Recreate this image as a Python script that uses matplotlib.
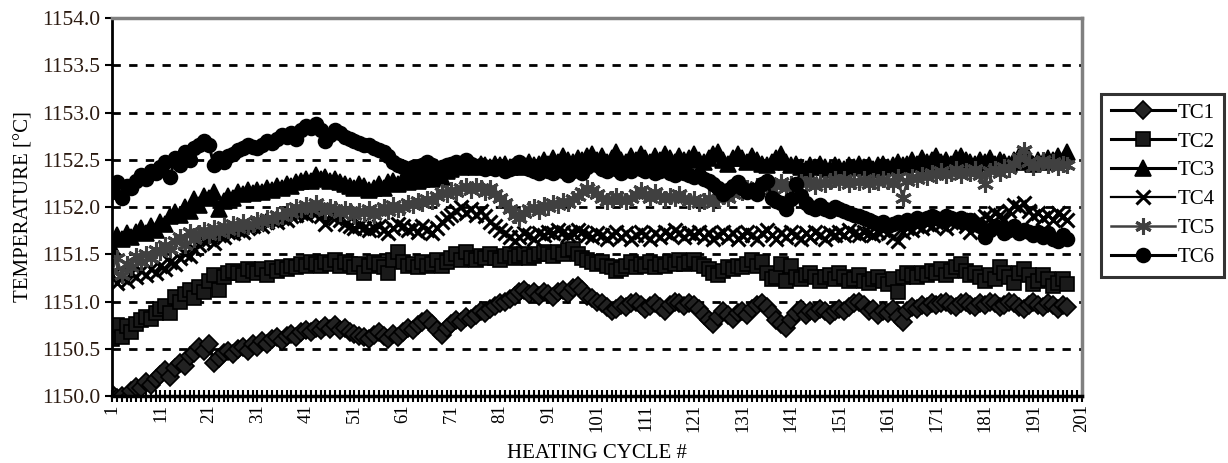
import numpy as np
import matplotlib
matplotlib.use("Agg")
import matplotlib.pyplot as plt
from matplotlib.ticker import MultipleLocator

plt.rcParams['font.family'] = ['Liberation Serif', 'DejaVu Serif']

# thermocouple readings per heating cycle
tc1 = [
    1150.02, 1149.98, 1150.00, 1149.97, 1150.05, 1150.10, 1150.08, 1150.15, 1150.12, 1150.18,
    1150.22, 1150.28, 1150.20, 1150.30, 1150.35, 1150.32, 1150.42, 1150.45, 1150.52, 1150.48,
    1150.55, 1150.35, 1150.40, 1150.45, 1150.48, 1150.44, 1150.50, 1150.52, 1150.48, 1150.55,
    1150.52, 1150.58, 1150.55, 1150.60, 1150.62, 1150.58, 1150.64, 1150.66, 1150.62, 1150.68,
    1150.70, 1150.68, 1150.72, 1150.70, 1150.74, 1150.71, 1150.75, 1150.70, 1150.72, 1150.68,
    1150.66, 1150.64, 1150.62, 1150.60, 1150.65, 1150.68, 1150.63, 1150.60, 1150.66, 1150.62,
    1150.68, 1150.72, 1150.70, 1150.75, 1150.78, 1150.82, 1150.76, 1150.70, 1150.65, 1150.72,
    1150.76, 1150.80, 1150.78, 1150.84, 1150.82, 1150.86, 1150.90, 1150.88, 1150.92, 1150.95,
    1150.98, 1151.00, 1151.03, 1151.06, 1151.10, 1151.12, 1151.08, 1151.10, 1151.06, 1151.10,
    1151.08, 1151.05, 1151.10, 1151.12, 1151.08, 1151.14, 1151.16, 1151.12, 1151.06, 1151.04,
    1151.00, 1150.98, 1150.94, 1150.90, 1150.92, 1150.96, 1150.94, 1150.98, 1151.00, 1150.96,
    1150.92, 1150.95, 1150.98, 1150.94, 1150.90, 1150.96, 1151.00, 1150.98, 1150.95, 1150.98,
    1150.96, 1150.92, 1150.86, 1150.80, 1150.76, 1150.84, 1150.90, 1150.86, 1150.82, 1150.88,
    1150.90, 1150.86, 1150.92, 1150.96, 1150.98, 1150.94, 1150.88, 1150.80, 1150.76, 1150.72,
    1150.80, 1150.88, 1150.92, 1150.86, 1150.90, 1150.88, 1150.92, 1150.90, 1150.86, 1150.90,
    1150.92, 1150.90, 1150.94, 1150.98, 1151.00, 1150.96, 1150.90, 1150.92, 1150.86, 1150.90,
    1150.88, 1150.92, 1150.84, 1150.78, 1150.90, 1150.94, 1150.92, 1150.96, 1150.94, 1150.98,
    1150.96, 1150.98, 1151.00, 1150.96, 1150.94, 1150.98, 1151.00, 1150.96, 1150.94, 1150.98,
    1150.96, 1151.00, 1150.98, 1150.94, 1150.96, 1151.00, 1150.98, 1150.94, 1150.92, 1150.96,
    1151.00, 1150.96, 1150.94, 1150.98, 1150.96, 1150.92, 1150.96, 1150.94,
]
tc2 = [
    1150.60, 1150.75, 1150.62, 1150.74, 1150.68, 1150.76, 1150.80, 1150.84, 1150.82, 1150.88,
    1150.92, 1150.95, 1150.88, 1151.05, 1151.00, 1151.08, 1151.12, 1151.04, 1151.15, 1151.10,
    1151.22, 1151.28, 1151.12, 1151.26, 1151.30, 1151.32, 1151.30, 1151.28, 1151.34, 1151.32,
    1151.30, 1151.34, 1151.28, 1151.35, 1151.32, 1151.36, 1151.34, 1151.38, 1151.36, 1151.40,
    1151.38, 1151.42, 1151.40, 1151.38, 1151.42, 1151.40, 1151.44, 1151.38, 1151.42, 1151.40,
    1151.36, 1151.40, 1151.30, 1151.38, 1151.42, 1151.40, 1151.36, 1151.30, 1151.44, 1151.52,
    1151.42, 1151.38, 1151.40, 1151.36, 1151.42, 1151.38, 1151.40, 1151.44, 1151.38, 1151.42,
    1151.46, 1151.50, 1151.44, 1151.52, 1151.46, 1151.44, 1151.48, 1151.46, 1151.50, 1151.46,
    1151.44, 1151.48, 1151.50, 1151.46, 1151.48, 1151.50, 1151.46, 1151.48, 1151.50, 1151.52,
    1151.50, 1151.48, 1151.52, 1151.50, 1151.54, 1151.56, 1151.50, 1151.46, 1151.44, 1151.42,
    1151.40, 1151.42, 1151.38, 1151.36, 1151.32, 1151.34, 1151.38, 1151.42, 1151.36, 1151.40,
    1151.38, 1151.42, 1151.36, 1151.40, 1151.38, 1151.42, 1151.40, 1151.44, 1151.40, 1151.42,
    1151.44, 1151.40, 1151.38, 1151.34, 1151.30, 1151.28, 1151.32, 1151.36, 1151.34, 1151.38,
    1151.36, 1151.40, 1151.44, 1151.38, 1151.42, 1151.30, 1151.24, 1151.26, 1151.40, 1151.22,
    1151.38, 1151.26, 1151.24, 1151.28, 1151.30, 1151.26, 1151.22, 1151.26, 1151.28, 1151.24,
    1151.30, 1151.26, 1151.22, 1151.24, 1151.28, 1151.22, 1151.20, 1151.24, 1151.26, 1151.22,
    1151.18, 1151.24, 1151.10, 1151.26, 1151.30, 1151.28, 1151.26, 1151.30, 1151.28, 1151.32,
    1151.30, 1151.34, 1151.28, 1151.32, 1151.36, 1151.40, 1151.32, 1151.28, 1151.30, 1151.26,
    1151.22, 1151.28, 1151.24, 1151.36, 1151.30, 1151.26, 1151.20, 1151.30, 1151.34, 1151.28,
    1151.18, 1151.22, 1151.28, 1151.24, 1151.16, 1151.20, 1151.24, 1151.18,
]
tc3 = [
    1151.58, 1151.70, 1151.66, 1151.72, 1151.68, 1151.74, 1151.78, 1151.72, 1151.80, 1151.76,
    1151.84, 1151.82, 1151.90, 1151.95, 1151.92, 1152.00, 1151.96, 1152.08, 1152.02, 1152.12,
    1152.10, 1152.16, 1151.98, 1152.06, 1152.12, 1152.10, 1152.16, 1152.14, 1152.18, 1152.15,
    1152.18, 1152.16, 1152.20, 1152.18, 1152.22, 1152.20, 1152.24, 1152.22, 1152.26, 1152.28,
    1152.30, 1152.28, 1152.34, 1152.30, 1152.32, 1152.28, 1152.30, 1152.26, 1152.24, 1152.22,
    1152.20, 1152.24, 1152.22, 1152.18, 1152.20, 1152.24, 1152.20, 1152.26, 1152.28, 1152.24,
    1152.30, 1152.26, 1152.32, 1152.28, 1152.30, 1152.34, 1152.30, 1152.36, 1152.32, 1152.38,
    1152.40, 1152.44, 1152.42, 1152.46, 1152.44, 1152.42, 1152.46, 1152.44, 1152.42, 1152.46,
    1152.44, 1152.46, 1152.42, 1152.44, 1152.46, 1152.42, 1152.48, 1152.44, 1152.46, 1152.50,
    1152.46, 1152.52, 1152.48, 1152.54, 1152.50, 1152.48, 1152.52, 1152.50, 1152.54, 1152.56,
    1152.50, 1152.54, 1152.48, 1152.52, 1152.58, 1152.50, 1152.48, 1152.54, 1152.50, 1152.56,
    1152.52, 1152.48, 1152.54, 1152.50, 1152.56, 1152.52, 1152.48, 1152.54, 1152.50, 1152.52,
    1152.56, 1152.50, 1152.48, 1152.52, 1152.56, 1152.58, 1152.50, 1152.46, 1152.52, 1152.56,
    1152.52, 1152.48, 1152.54, 1152.50, 1152.46, 1152.44, 1152.48, 1152.52, 1152.56, 1152.48,
    1152.44, 1152.46, 1152.42, 1152.40, 1152.44, 1152.42, 1152.46, 1152.42, 1152.40, 1152.44,
    1152.42, 1152.40, 1152.44, 1152.42, 1152.46, 1152.42, 1152.44, 1152.40, 1152.44, 1152.46,
    1152.42, 1152.44, 1152.48, 1152.44, 1152.46, 1152.50, 1152.46, 1152.52, 1152.48, 1152.50,
    1152.54, 1152.48, 1152.50, 1152.46, 1152.52, 1152.54, 1152.50, 1152.48, 1152.46, 1152.50,
    1152.48, 1152.52, 1152.46, 1152.50, 1152.48, 1152.46, 1152.50, 1152.54, 1152.48, 1152.52,
    1152.46, 1152.50, 1152.48, 1152.52, 1152.50, 1152.54, 1152.50, 1152.58,
]
tc4 = [
    1151.28, 1151.20, 1151.26, 1151.22, 1151.30, 1151.26, 1151.32, 1151.28, 1151.34, 1151.30,
    1151.38, 1151.34, 1151.42, 1151.40, 1151.46, 1151.50, 1151.48, 1151.56, 1151.60, 1151.64,
    1151.66, 1151.62, 1151.70, 1151.68, 1151.74, 1151.72, 1151.76, 1151.74, 1151.78, 1151.80,
    1151.82, 1151.80, 1151.84, 1151.86, 1151.84, 1151.88, 1151.86, 1151.90, 1151.92, 1151.94,
    1151.92, 1151.96, 1151.94, 1151.90, 1151.82, 1151.92, 1151.88, 1151.86, 1151.82, 1151.80,
    1151.78, 1151.80, 1151.78, 1151.76, 1151.78, 1151.80, 1151.76, 1151.72, 1151.78, 1151.82,
    1151.80, 1151.76, 1151.78, 1151.74, 1151.80, 1151.76, 1151.72, 1151.78, 1151.84, 1151.88,
    1151.92, 1151.96, 1152.00, 1151.94, 1151.98, 1151.92, 1151.96, 1151.90, 1151.84, 1151.80,
    1151.76, 1151.72, 1151.68, 1151.64, 1151.68, 1151.72, 1151.70, 1151.66, 1151.72, 1151.70,
    1151.74, 1151.72, 1151.76, 1151.74, 1151.70, 1151.72, 1151.76, 1151.74, 1151.70, 1151.68,
    1151.72, 1151.70, 1151.66, 1151.70, 1151.74, 1151.68, 1151.72, 1151.66, 1151.70, 1151.74,
    1151.70, 1151.66, 1151.72, 1151.68, 1151.74, 1151.70, 1151.76, 1151.72, 1151.68, 1151.72,
    1151.70, 1151.74, 1151.68, 1151.72, 1151.66, 1151.70, 1151.74, 1151.68, 1151.72, 1151.66,
    1151.70, 1151.74, 1151.70, 1151.66, 1151.72, 1151.76, 1151.70, 1151.66, 1151.72, 1151.68,
    1151.74, 1151.70, 1151.66, 1151.72, 1151.68, 1151.74, 1151.70, 1151.66, 1151.72, 1151.70,
    1151.74, 1151.70, 1151.76, 1151.72, 1151.70, 1151.74, 1151.72, 1151.70, 1151.74, 1151.76,
    1151.72, 1151.68, 1151.64, 1151.74, 1151.78, 1151.76, 1151.80, 1151.78, 1151.82, 1151.80,
    1151.84, 1151.82, 1151.78, 1151.84, 1151.82, 1151.86, 1151.80, 1151.74, 1151.82, 1151.86,
    1151.90, 1151.88, 1151.94, 1151.92, 1151.86, 1151.96, 1152.02, 1152.00, 1152.04, 1151.96,
    1151.90, 1151.94, 1151.88, 1151.92, 1151.86, 1151.94, 1151.90, 1151.86,
]
tc5 = [
    1151.32, 1151.46, 1151.28, 1151.40, 1151.36, 1151.48, 1151.42, 1151.50, 1151.46, 1151.54,
    1151.52, 1151.60, 1151.56, 1151.64, 1151.68, 1151.60, 1151.74, 1151.66, 1151.72, 1151.76,
    1151.70, 1151.78, 1151.74, 1151.80, 1151.76, 1151.82, 1151.78, 1151.84, 1151.80, 1151.82,
    1151.86, 1151.84, 1151.88, 1151.86, 1151.92, 1151.90, 1151.96, 1151.94, 1152.00, 1151.98,
    1152.02, 1151.98, 1152.04, 1152.00, 1151.96, 1152.00, 1151.98, 1151.94, 1151.98, 1151.96,
    1151.92, 1151.96, 1151.94, 1151.98, 1151.92, 1151.96, 1152.00, 1151.96, 1152.02, 1151.98,
    1152.00, 1152.04, 1152.02, 1152.06, 1152.04, 1152.08, 1152.06, 1152.12, 1152.16, 1152.14,
    1152.18, 1152.16, 1152.20, 1152.22, 1152.18, 1152.22, 1152.20, 1152.16, 1152.20, 1152.14,
    1152.10, 1152.04, 1151.98, 1151.92, 1151.88, 1151.94, 1151.98, 1152.00, 1151.96, 1152.02,
    1152.00, 1152.04, 1152.02, 1152.06, 1152.04, 1152.08, 1152.12, 1152.16, 1152.20, 1152.18,
    1152.14, 1152.10, 1152.06, 1152.08, 1152.12, 1152.08, 1152.06, 1152.10, 1152.14, 1152.18,
    1152.14, 1152.10, 1152.16, 1152.12, 1152.08, 1152.12, 1152.10, 1152.14, 1152.10, 1152.06,
    1152.08, 1152.04, 1152.06, 1152.10, 1152.04, 1152.08, 1152.12, 1152.10, 1152.14, 1152.18,
    1152.16, 1152.20, 1152.18, 1152.22, 1152.20, 1152.24, 1152.18, 1152.22, 1152.26, 1152.20,
    1152.24, 1152.22, 1152.26, 1152.24, 1152.28, 1152.22, 1152.26, 1152.24, 1152.28, 1152.30,
    1152.26, 1152.30, 1152.24, 1152.28, 1152.26, 1152.30, 1152.24, 1152.28, 1152.26, 1152.30,
    1152.28, 1152.24, 1152.32, 1152.10, 1152.28, 1152.32, 1152.30, 1152.34, 1152.32, 1152.36,
    1152.34, 1152.38, 1152.34, 1152.36, 1152.40, 1152.34, 1152.38, 1152.36, 1152.40, 1152.34,
    1152.24, 1152.38, 1152.40, 1152.36, 1152.42, 1152.40, 1152.46, 1152.52, 1152.60, 1152.48,
    1152.42, 1152.46, 1152.50, 1152.44, 1152.48, 1152.42, 1152.46, 1152.44,
]
tc6 = [
    1152.16, 1152.26, 1152.10, 1152.22, 1152.20, 1152.28, 1152.34, 1152.30, 1152.38, 1152.36,
    1152.42, 1152.48, 1152.32, 1152.52, 1152.44, 1152.58, 1152.50, 1152.62, 1152.66, 1152.70,
    1152.66, 1152.44, 1152.52, 1152.48, 1152.54, 1152.56, 1152.60, 1152.62, 1152.66, 1152.64,
    1152.62, 1152.66, 1152.70, 1152.68, 1152.72, 1152.76, 1152.74, 1152.78, 1152.72, 1152.82,
    1152.86, 1152.84, 1152.88, 1152.82, 1152.70, 1152.76, 1152.82, 1152.78, 1152.74, 1152.72,
    1152.70, 1152.68, 1152.66, 1152.66, 1152.62, 1152.60, 1152.58, 1152.54, 1152.48, 1152.44,
    1152.42, 1152.40, 1152.42, 1152.40, 1152.44, 1152.48, 1152.44, 1152.40, 1152.42, 1152.44,
    1152.46, 1152.48, 1152.44, 1152.50, 1152.46, 1152.42, 1152.44, 1152.40, 1152.42, 1152.40,
    1152.42, 1152.38, 1152.40, 1152.44, 1152.48, 1152.44, 1152.40, 1152.38, 1152.36, 1152.40,
    1152.38, 1152.36, 1152.40, 1152.38, 1152.34, 1152.38, 1152.40, 1152.36, 1152.42, 1152.46,
    1152.44, 1152.40, 1152.38, 1152.42, 1152.40, 1152.36, 1152.40, 1152.38, 1152.42, 1152.40,
    1152.38, 1152.40, 1152.36, 1152.38, 1152.40, 1152.36, 1152.34, 1152.38, 1152.36, 1152.34,
    1152.32, 1152.34, 1152.30, 1152.28, 1152.24, 1152.20, 1152.14, 1152.18, 1152.22, 1152.26,
    1152.20, 1152.16, 1152.18, 1152.14, 1152.24, 1152.28, 1152.10, 1152.06, 1152.04, 1151.98,
    1152.08, 1152.24, 1152.12, 1152.04, 1152.00, 1151.98, 1152.02, 1151.98, 1151.96, 1152.00,
    1151.98, 1151.96, 1151.94, 1151.92, 1151.90, 1151.88, 1151.86, 1151.84, 1151.82, 1151.84,
    1151.80, 1151.82, 1151.84, 1151.82, 1151.86, 1151.84, 1151.88, 1151.86, 1151.88, 1151.90,
    1151.88, 1151.86, 1151.90, 1151.88, 1151.86, 1151.88, 1151.84, 1151.86, 1151.82, 1151.80,
    1151.68, 1151.76, 1151.80, 1151.78, 1151.72, 1151.76, 1151.80, 1151.72, 1151.76, 1151.74,
    1151.70, 1151.74, 1151.68, 1151.72, 1151.66, 1151.64, 1151.70, 1151.66,
]
cycles = np.arange(1, len(tc1) + 1)
names = ["TC1", "TC2", "TC3", "TC4", "TC5", "TC6"]
series = [tc1, tc2, tc3, tc4, tc5, tc6]

# marker, size, line colour, marker face colour, line width
styles = [
    ("D", 9, "black", "#222222", 2.2),
    ("s", 9.5, "black", "#1a1a1a", 2.2),
    ("^", 11, "black", "black", 2.2),
    ("x", 10.5, "black", "black", 1.6),
    ((6, 2, 0), 12, "#404040", "#404040", 1.8),
    ("o", 10, "black", "black", 2.2),
]

fig = plt.figure(figsize=(12.28, 4.63), dpi=100)
ax = fig.add_axes([0.0912, 0.1447, 0.7899, 0.8164])

for name, vals, (m, ms, lc, fc, lw) in zip(names, series, styles):
    thin = m == "x" or isinstance(m, tuple)
    ax.plot(cycles, vals, color=lc, lw=lw, marker=m, ms=ms,
            mfc=fc, mec=lc, mew=2.2 if thin else 1.2, label=name)

ax.set_xlim(1, 201)
ax.set_ylim(1150.0, 1154.0)
ax.set_xticks(np.arange(1, 202, 10))
ax.xaxis.set_minor_locator(MultipleLocator(1))
ax.yaxis.set_major_locator(MultipleLocator(0.5))
ax.yaxis.set_major_formatter(plt.FormatStrFormatter("%.1f"))
for y in np.arange(1150.5, 1154.0, 0.5):
    ax.axhline(y, color="black", lw=2, ls=(0, (3, 3)), zorder=0)

ax.tick_params(axis="x", which="both", direction="inout", length=8, width=1.5,
               labelrotation=90, labelsize=13.5, pad=2)
ax.tick_params(axis="y", direction="out", length=5, width=1.5, labelsize=15.5,
               labelcolor="#2b1a10")
for lab in ax.get_xticklabels():
    lab.set_verticalalignment("top")

ax.spines["left"].set_linewidth(2)
ax.spines["bottom"].set_linewidth(2.5)
ax.spines["top"].set_color("#808080")
ax.spines["top"].set_linewidth(2.5)
ax.spines["right"].set_color("#808080")
ax.spines["right"].set_linewidth(2.5)

ax.set_xlabel("HEATING CYCLE #", fontsize=15, labelpad=8)
ax.set_ylabel("TEMPERATURE [°C]", fontsize=15, labelpad=6)

leg = ax.legend(loc="upper left", bbox_to_anchor=(1.02, 0.80), fontsize=15,
                frameon=True, fancybox=False, edgecolor="black",
                handlelength=3.1, borderpad=0.45, labelspacing=0.45,
                handletextpad=0.1, borderaxespad=0)
leg.get_frame().set_linewidth(2.2)

fig.savefig("out.png", dpi=100)
